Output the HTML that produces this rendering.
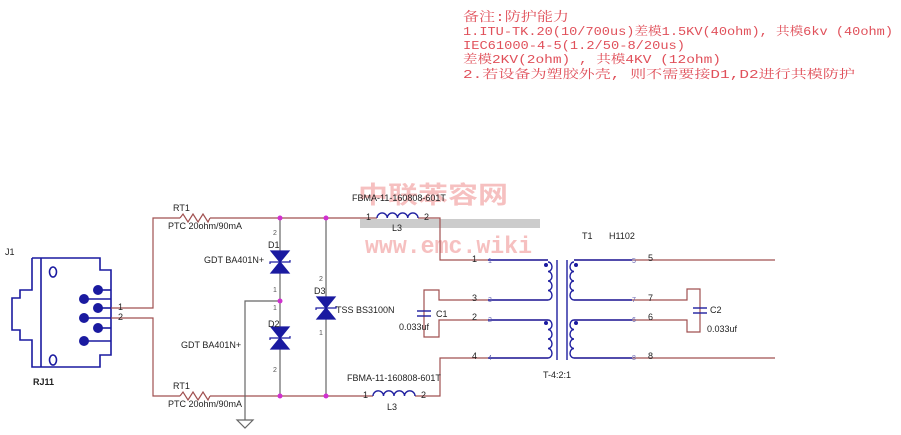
<!DOCTYPE html>
<html><head><meta charset="utf-8"><style>
html,body{margin:0;padding:0;background:#fff;}
svg{display:block;}
.n{font-family:"Liberation Sans",sans-serif;font-size:9px;fill:#222;}
.note{font-family:"Liberation Mono","Noto Serif CJK SC",monospace;font-size:12px;fill:#e0505a;}
</style></head><body>
<svg width="901" height="435" viewBox="0 0 901 435" xmlns="http://www.w3.org/2000/svg">
<text class="note" x="463" y="21" style="font-size:13px" textLength="106" lengthAdjust="spacingAndGlyphs">备注:防护能力</text>
<text class="note" x="463" y="35" textLength="430" lengthAdjust="spacingAndGlyphs">1.ITU-TK.20(10/700us)差模1.5KV(40ohm), 共模6kv (40ohm)</text>
<text class="note" x="463" y="49" textLength="222" lengthAdjust="spacingAndGlyphs">IEC61000-4-5(1.2/50-8/20us)</text>
<text class="note" x="463" y="63" textLength="258" lengthAdjust="spacingAndGlyphs">差模2KV(2ohm) , 共模4KV (12ohm)</text>
<text class="note" x="463" y="78" textLength="392" lengthAdjust="spacingAndGlyphs">2.若设备为塑胶外壳, 则不需要接D1,D2进行共模防护</text>

<rect x="360" y="219" width="180" height="9" fill="#cccccc"/>
<text x="358" y="203" font-family="Noto Sans CJK SC,sans-serif" font-size="24" font-weight="bold" fill="#f6c0c0" textLength="150" lengthAdjust="spacingAndGlyphs">中联苯容网</text>
<text x="365" y="253" font-family="Liberation Mono,monospace" font-size="24" font-weight="bold" fill="#f6c0c0" textLength="167" lengthAdjust="spacingAndGlyphs">www.emc.wiki</text>

<g stroke="#1a1aa0" stroke-width="1.6" fill="none">
<polyline points="32,258 100,258 100,270 111,270 111,355 100,355 100,367 32,367 32,340 20,340 20,330 12,330 12,298 20,298 20,290 32,290 32,258"/>
<line x1="41" y1="258" x2="41" y2="367"/>
<ellipse cx="53" cy="272" rx="3.5" ry="5"/>
<ellipse cx="53" cy="360" rx="3.5" ry="5"/>
<line x1="98" y1="290" x2="111" y2="290"/><line x1="84" y1="299" x2="111" y2="299"/>
<line x1="98" y1="308" x2="111" y2="308"/><line x1="84" y1="318" x2="111" y2="318"/>
<line x1="98" y1="328" x2="111" y2="328"/><line x1="84" y1="341" x2="111" y2="341"/>
</g>
<g fill="#1a1aa0">
<circle cx="98" cy="290" r="5"/><circle cx="84" cy="299" r="5"/><circle cx="98" cy="308" r="5"/>
<circle cx="84" cy="318" r="5"/><circle cx="98" cy="328" r="5"/><circle cx="84" cy="341" r="5"/>
</g>
<text class="n" x="5" y="255">J1</text>
<text class="n" x="33" y="385" font-weight="bold">RJ11</text>

<g stroke="#a05050" stroke-width="1.2" fill="none">
<polyline points="111,308 153,308 153,218 180,218"/>
<polyline points="111,318 153,318 153,396 180,396"/>
<line x1="210" y1="218" x2="377" y2="218"/>
<line x1="210" y1="396" x2="373" y2="396"/>
<polyline points="418,218 440,218 440,260 548,260"/>
<polyline points="415,396 440,396 440,358 548,358"/>
<polyline points="548,300 439,300 439,290 424,290 424,337 439,337 439,320 548,320"/>
<line x1="574" y1="260" x2="775" y2="260"/>
<line x1="574" y1="358" x2="775" y2="358"/>
<polyline points="574,300 687,300 687,289 700,289 700,332 687,332 687,320 574,320"/>
</g>
<g stroke="#666" stroke-width="1.2" fill="none">
<line x1="280" y1="218" x2="280" y2="396"/>
<line x1="326" y1="218" x2="326" y2="396"/>
<polyline points="280,301 245,301 245,420"/>
<polygon points="237,420 253,420 245,428"/>
</g>
<g stroke="#2020a0" stroke-width="1.4" fill="none">
<line x1="488" y1="260" x2="548" y2="260"/><line x1="488" y1="300" x2="548" y2="300"/>
<line x1="488" y1="320" x2="548" y2="320"/><line x1="488" y1="358" x2="548" y2="358"/>
<line x1="574" y1="260" x2="632" y2="260"/><line x1="574" y1="300" x2="632" y2="300"/>
<line x1="574" y1="320" x2="632" y2="320"/><line x1="574" y1="358" x2="632" y2="358"/>
<path d="M548,262 a4,4.75 0 0 1 0,9.5 a4,4.75 0 0 1 0,9.5 a4,4.75 0 0 1 0,9.5 a4,4.75 0 0 1 0,9.5"/>
<path d="M548,320 a4,4.75 0 0 1 0,9.5 a4,4.75 0 0 1 0,9.5 a4,4.75 0 0 1 0,9.5 a4,4.75 0 0 1 0,9.5"/>
<path d="M574,262 a4,4.75 0 0 0 0,9.5 a4,4.75 0 0 0 0,9.5 a4,4.75 0 0 0 0,9.5 a4,4.75 0 0 0 0,9.5"/>
<path d="M574,320 a4,4.75 0 0 0 0,9.5 a4,4.75 0 0 0 0,9.5 a4,4.75 0 0 0 0,9.5 a4,4.75 0 0 0 0,9.5"/>
<line x1="557" y1="260" x2="557" y2="360"/><line x1="567" y1="260" x2="567" y2="360"/>
<path d="M377,218 a5.1,5 0 0 1 10.25,0 a5.1,5 0 0 1 10.25,0 a5.1,5 0 0 1 10.25,0 a5.1,5 0 0 1 10.25,0"/>
<path d="M373,396 a5.1,5 0 0 1 10.5,0 a5.1,5 0 0 1 10.5,0 a5.1,5 0 0 1 10.5,0 a5.1,5 0 0 1 10.5,0"/>
<line x1="417" y1="311" x2="431" y2="311"/><line x1="417" y1="316" x2="431" y2="316"/>
<line x1="693" y1="308" x2="707" y2="308"/><line x1="693" y1="313" x2="707" y2="313"/>
</g>
<g fill="#1a1aa0"><circle cx="546" cy="265" r="2"/><circle cx="546" cy="323" r="2"/><circle cx="576" cy="265" r="2"/><circle cx="576" cy="323" r="2"/></g>
<g stroke="#a05050" stroke-width="1.2" fill="none">
<polyline points="180,218 183,214 188,222 193,214 198,222 203,214 208,222 210,218"/>
<polyline points="180,396 183,392 188,400 193,392 198,400 203,392 208,400 210,396"/>
</g>
<g fill="#1a1aa0" stroke="#1a1aa0" stroke-width="1.2">
<polygon points="271,251 289,251 280,262"/><polygon points="271,273 289,273 280,262"/>
<polygon points="271,327 289,327 280,338"/><polygon points="271,349 289,349 280,338"/>
<polygon points="317,297 335,297 326,308"/><polygon points="317,319 335,319 326,308"/>
</g>
<g stroke="#1a1aa0" stroke-width="1.2" fill="none">
<polyline points="270,264 270,262 290,262 290,260"/>
<polyline points="270,340 270,338 290,338 290,336"/>
<polyline points="316,310 316,308 336,308 336,306"/>
</g>
<g fill="#d030d0">
<circle cx="280" cy="218" r="2.5"/><circle cx="326" cy="218" r="2.5"/>
<circle cx="280" cy="396" r="2.5"/><circle cx="326" cy="396" r="2.5"/><circle cx="280" cy="301" r="2.5"/>
</g>
<g class="n">
<text x="173" y="211">RT1</text><text x="168" y="229">PTC 20ohm/90mA</text>
<text x="173" y="389">RT1</text><text x="168" y="407">PTC 20ohm/90mA</text>
<text x="268" y="248">D1</text><text x="204" y="263">GDT BA401N+</text>
<text x="268" y="327">D2</text><text x="181" y="348">GDT BA401N+</text>
<text x="314" y="294">D3</text><text x="336" y="313">TSS BS3100N</text>
<text x="352" y="201">FBMA-11-160808-601T</text>
<text x="366" y="220">1</text><text x="424" y="220">2</text><text x="392" y="231">L3</text>
<text x="347" y="381">FBMA-11-160808-601T</text>
<text x="363" y="398">1</text><text x="421" y="398">2</text><text x="387" y="410">L3</text>
<text x="436" y="317">C1</text><text x="399" y="330">0.033uf</text>
<text x="710" y="313">C2</text><text x="707" y="332">0.033uf</text>
<text x="582" y="239">T1</text><text x="609" y="239">H1102</text>
<text x="543" y="378">T-4:2:1</text>
<text x="472" y="262">1</text><text x="472" y="301">3</text><text x="472" y="320">2</text><text x="472" y="359">4</text>
<text x="648" y="261">5</text><text x="648" y="301">7</text><text x="648" y="320">6</text><text x="648" y="359">8</text>
<text x="118" y="310">1</text><text x="118" y="320">2</text>
</g>
<g class="n" style="font-size:7px;fill:#6060b0">
<text x="488" y="263">1</text><text x="488" y="302">3</text><text x="488" y="322">2</text><text x="488" y="360">4</text>
<text x="632" y="263">5</text><text x="632" y="302">7</text><text x="632" y="322">6</text><text x="632" y="360">8</text>
</g>
<g class="n" style="font-size:7px;fill:#555">
<text x="273" y="235">2</text><text x="273" y="292">1</text><text x="273" y="310">1</text><text x="273" y="372">2</text>
<text x="319" y="281">2</text><text x="319" y="335">1</text>
</g>
</svg>
</body></html>
